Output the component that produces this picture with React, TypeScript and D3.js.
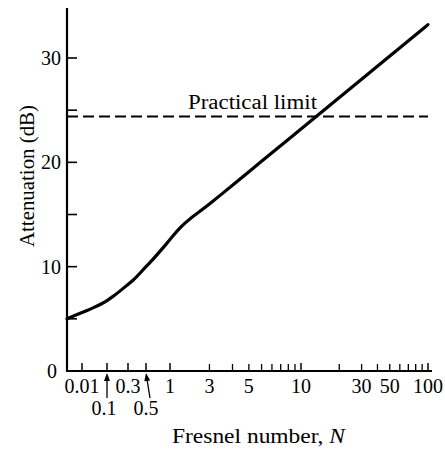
import React from "react";
import * as d3 from "d3";

// Fresnel number N and attenuation (dB)
const N_VALUES = [0.001, 0.01, 0.0275, 0.1, 0.137, 0.3, 0.346, 0.5, 0.61, 1, 1.15, 2, 3, 5, 10, 100];
const ATTEN_DB = [5.0, 5.6, 6.05, 6.75, 7.15, 8.3, 8.7, 10.0, 10.7, 12.6, 13.5, 16.0, 17.8, 20.1, 23.2, 33.2];

const PRACTICAL_LIMIT = 24.4;

const Y_TICKS = [5, 10, 15, 20, 25, 30];
const Y_LABELS = [0, 10, 20, 30];

const X_MAJOR_TICKS = [0.01, 0.1, 0.3, 0.5, 1, 10, 100];
const X_MINOR_TICKS = [2, 3, 4, 5, 6, 7, 8, 9, 20, 30, 40, 50, 60, 70, 80, 90];

// first row of labels (as printed in the original figure, where "3" and "5" sit on the 2 and 4 ticks)
const X_LABEL_AT = [0.01, 0.3, 1, 2, 4, 10, 30, 50, 100];
const X_LABEL_TEXT = ["0.01", "0.3", "1", "3", "5", "10", "30", "50", "100"];
// second row, pointed to with arrows
const X_ARROW_AT = [0.1, 0.5];
const X_ARROW_TEXT = ["0.1", "0.5"];

const FONT = "'Liberation Serif', 'Times New Roman', serif";

export default function App() {
  const W = 445;
  const H = 450;
  // piecewise scale in log10(N), as the original axis is not a pure log axis below N = 1
  const xs = d3
    .scaleLinear()
    .domain([-3, -2, -1, Math.log10(0.3), Math.log10(0.5), 0, 1, 2])
    .range([67, 82, 107, 128, 146, 170, 301, 428]);
  const x = (n: number) => xs(Math.log10(n));
  const y = d3.scaleLinear().domain([0, 30]).range([371, 58]);

  const x0 = 67;
  const y0 = y(0);
  const yTop = y(34.8);
  const xEnd = 432;

  const pts: [number, number][] = N_VALUES.map((n, i) => [x(n), y(ATTEN_DB[i])]);
  const line = d3.line().curve(d3.curveMonotoneX)(pts) || "";

  return (
    <svg
      width={W}
      height={H}
      style={{ position: "absolute", left: 0, top: 0, background: "#fff" }}
      fontFamily={FONT}
    >
      <rect x={0} y={0} width={W} height={H} fill="#fff" />
      {/* axes */}
      <line x1={x0} y1={yTop} x2={x0} y2={y0 + 1} stroke="#000" strokeWidth={2.2} />
      <line x1={x0 - 1} y1={y0} x2={xEnd} y2={y0} stroke="#000" strokeWidth={2} />

      {/* y ticks */}
      {Y_TICKS.map((t) => (
        <line key={"yt" + t} x1={x0} x2={x0 + 10} y1={y(t)} y2={y(t)} stroke="#000" strokeWidth={1.6} />
      ))}
      {Y_LABELS.map((t) => (
        <text
          key={"yl" + t}
          x={t === 0 ? 57 : 61}
          y={y(t) + 7}
          textAnchor="end"
          fontSize={20}
          fill="#000"
        >
          {t}
        </text>
      ))}

      {/* x ticks */}
      {X_MAJOR_TICKS.map((t) => (
        <line key={"xm" + t} x1={x(t)} x2={x(t)} y1={y0} y2={y0 - 8} stroke="#000" strokeWidth={1.5} />
      ))}
      {X_MINOR_TICKS.map((t) => (
        <line key={"xn" + t} x1={x(t)} x2={x(t)} y1={y0} y2={y0 - 7} stroke="#000" strokeWidth={1.3} />
      ))}

      {X_LABEL_AT.map((v, i) => (
        <text key={"xl" + i} x={x(v)} y={393} textAnchor="middle" fontSize={20} fill="#000">
          {X_LABEL_TEXT[i]}
        </text>
      ))}

      {/* arrowed labels */}
      {X_ARROW_AT.map((v, i) => {
        const tx = x(v);
        const bx = i === 0 ? tx : tx + 4;
        const ty = y0 + 2;
        const by = 398;
        const ang = Math.atan2(ty - by, tx - bx);
        const hl = 8;
        const hw = 3;
        const ux = Math.cos(ang);
        const uy = Math.sin(ang);
        const p1 = [tx - ux * hl - uy * hw, ty - uy * hl + ux * hw];
        const p2 = [tx - ux * hl + uy * hw, ty - uy * hl - ux * hw];
        return (
          <g key={"xa" + i}>
            <line x1={bx} y1={by} x2={tx - ux * 4} y2={ty - uy * 4} stroke="#000" strokeWidth={1.3} />
            <polygon points={`${tx},${ty} ${p1[0]},${p1[1]} ${p2[0]},${p2[1]}`} fill="#000" />
            <text x={i === 0 ? tx - 3 : tx} y={415} textAnchor="middle" fontSize={20} fill="#000">
              {X_ARROW_TEXT[i]}
            </text>
          </g>
        );
      })}

      {/* practical limit */}
      <line
        x1={x0}
        x2={428}
        y1={y(PRACTICAL_LIMIT)}
        y2={y(PRACTICAL_LIMIT)}
        stroke="#000"
        strokeWidth={2}
        strokeDasharray="11,5"
      />
      <text x={188} y={109} fontSize={20} fill="#000" textLength={129} lengthAdjust="spacingAndGlyphs">
        Practical limit
      </text>

      {/* curve */}
      <path d={line} fill="none" stroke="#000" strokeWidth={3.2} strokeLinecap="round" />

      {/* axis titles */}
      <text
        transform={`translate(34,176) rotate(-90)`}
        textAnchor="middle"
        fontSize={20}
        fill="#000"
        textLength={142}
        lengthAdjust="spacingAndGlyphs"
      >
        Attenuation (dB)
      </text>
      <text x={172} y={443} fontSize={20} fill="#000" textLength={173} lengthAdjust="spacingAndGlyphs">
        Fresnel number, <tspan fontStyle="italic">N</tspan>
      </text>
    </svg>
  );
}
